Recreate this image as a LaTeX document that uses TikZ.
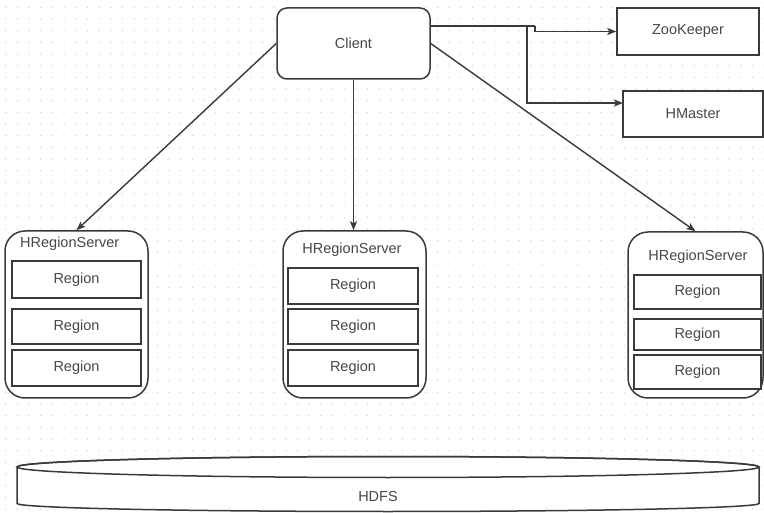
\documentclass[tikz,border=0pt]{standalone}
\usepackage{fontspec}
\setmainfont{Liberation Sans}
\usetikzlibrary{arrows.meta,calc}
\definecolor{ink}{HTML}{3A3A3A}
\definecolor{txt}{HTML}{474747}
\definecolor{dotc}{HTML}{D2D2D2}
\begin{document}
\begin{tikzpicture}[x=1pt,y=-1pt,
  every node/.style={font=\fontsize{14.5}{16}\selectfont, text=txt, inner sep=0pt},
  box/.style={draw=ink, line width=1.5pt, fill=white},
  server/.style={box, rounded corners=20pt},
  regionbox/.style={box, line width=1.4pt},
  arr/.style={draw=ink, line width=1.4pt, -{Stealth[length=9pt,width=7pt,inset=2pt]}},
  wire/.style={draw=ink, line width=1.4pt}]
\useasboundingbox (0,0) rectangle (764,513);
\fill[white] (0,0) rectangle (764,513);

% dotted background grid
\foreach \i in {0,...,65}
  \foreach \j in {0,...,43}
    \fill[dotc] ({5.7+11.67*\i},{7.3+11.67*\j}) circle[radius=0.75];

% top row
\node[box, rounded corners=10pt, minimum width=153pt, minimum height=71pt] (client) at (353.5,43.5) {Client};
\node[box, minimum width=142pt, minimum height=47pt] (zk) at (688,31.5) {ZooKeeper};
\node[box, minimum width=140pt, minimum height=46pt] (hm) at (693,114) {HMaster};

% region servers
\node[server, minimum width=143pt, minimum height=167pt] (s1) at (76.5,314.5) {};
\node[server, minimum width=143pt, minimum height=167pt] (s2) at (354.5,314.5) {};
\node[server, minimum width=135pt, minimum height=166pt] (s3) at (695.5,315) {};
\node[anchor=west] (l1) at (20,244) {HRegionServer};
\node (l2) at (352,250) {HRegionServer};
\node (l3) at (698,257) {HRegionServer};

\node[regionbox, minimum width=129pt, minimum height=37pt] (r11) at (76.5,279.5) {Region};
\node[regionbox, minimum width=129pt, minimum height=35pt] (r12) at (76.5,326.5) {Region};
\node[regionbox, minimum width=129pt, minimum height=36pt] (r13) at (76.5,368) {Region};

\node[regionbox, minimum width=130pt, minimum height=36pt] (r21) at (353,286) {Region};
\node[regionbox, minimum width=130pt, minimum height=35pt] (r22) at (353,326.5) {Region};
\node[regionbox, minimum width=130pt, minimum height=36pt] (r23) at (353,368) {Region};

\node[regionbox, minimum width=127pt, minimum height=34pt] (r31) at (697.5,292) {Region};
\node[regionbox, minimum width=127pt, minimum height=31pt] (r32) at (697.5,334.5) {Region};
\node[regionbox, minimum width=127pt, minimum height=34pt] (r33) at (697.5,372) {Region};

% HDFS cylinder
\path[box] (17,467) -- (17,503.5)
  arc[start angle=180, end angle=0, x radius=371, y radius=8]
  -- (759,467)
  arc[start angle=0, end angle=-180, x radius=371, y radius=10.5] -- cycle;
\draw[ink, line width=1.5pt] (388,467) ellipse[x radius=371, y radius=10.5];
\node (hdfs) at (378,497) {HDFS};

% connectors
\coordinate (out) at (430,26);
\coordinate (jz) at (535,26);
\coordinate (jh) at (527,26);
\coordinate (hin) at (623,103);
\draw[wire] (out) -- (jz);
\draw[arr] (jz) -- (jz |- zk.west) -- (zk.west);
\draw[arr] (jh) |- (hin);

\draw[arr] (client.west) -- (s1.north);
\draw[arr] (client.south) -- (client.south |- s2.north);
\draw[arr] (client.east) -- (s3.north);
\end{tikzpicture}
\end{document}
